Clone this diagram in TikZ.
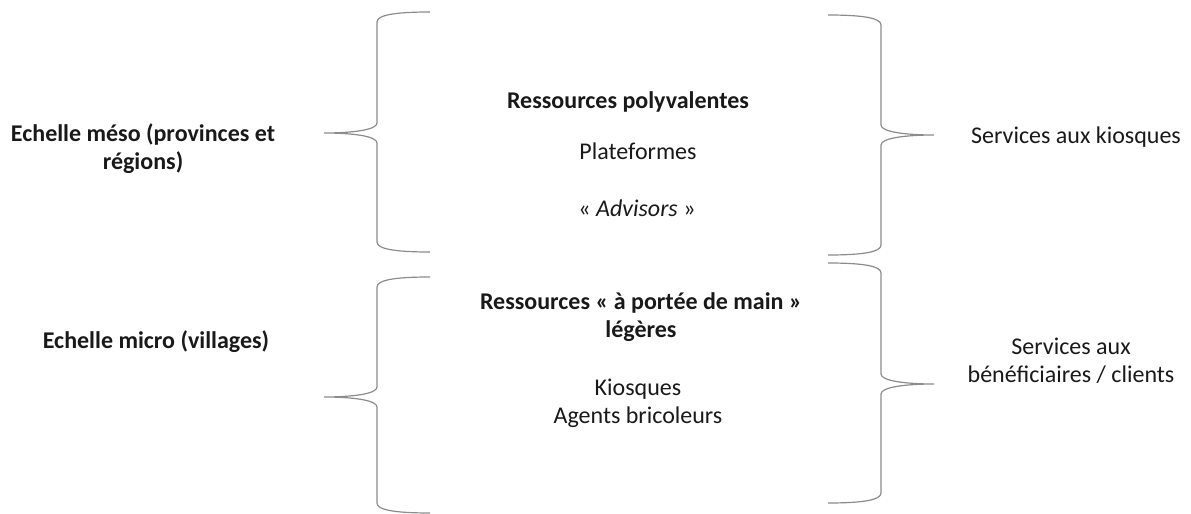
\documentclass[tikz,border=0pt]{standalone}
\usepackage{fontspec}
\setmainfont{Carlito}
\usetikzlibrary{positioning}
\definecolor{bracegray}{RGB}{140,140,140}
\definecolor{textdark}{RGB}{25,25,25}

\begin{document}
\begin{tikzpicture}[x=0.5pt,y=-0.5pt,
  label/.style={text=textdark,align=center,inner sep=0pt,font=\fontsize{12}{14}\selectfont},
  title/.style={label,font=\fontsize{12}{14}\selectfont\bfseries}]
\useasboundingbox (0,0) rectangle (1191,514);
% accolades : x du trait vertical / sens / haut / pointe / bas
\foreach \v/\d/\yt/\ym/\yb in {377/-1/12/133/252, 377/-1/277/397/513, 881/1/15/135/255, 881/1/263/384/503}{
  \draw[bracegray,line width=0.6pt] ({\v-53*\d},\yt) .. controls ({\v-18*\d},\yt) and (\v,\yt+3) .. (\v,\yt+10)
    -- (\v,\ym-10) .. controls (\v,\ym-3) and ({\v+25*\d},\ym) .. ({\v+53*\d},\ym)
    .. controls ({\v+25*\d},\ym) and (\v,\ym+3) .. (\v,\ym+10)
    -- (\v,\yb-10) .. controls (\v,\yb-3) and ({\v-18*\d},\yb) .. ({\v-53*\d},\yb);
}
\node[title] (meso) at (143,149) {Echelle méso (provinces et\\régions)};
\node[title] (micro) at (156,342) {Echelle micro (villages)};
\node[title] (polyv) at (628,102) {Ressources polyvalentes};
\node[label] (plat) at (638,151) {Plateformes};
\node[label] (advis) at (637,208) {« \textit{Advisors} »};
\node[title] (portee) at (641,317) {Ressources « à portée de main »\\légères};
\node[label] (kiosq) at (638,403) {Kiosques\\Agents bricoleurs};
\node[label] (servk) at (1076,137) {Services aux kiosques};
\node[label] (servb) at (1071,361) {Services aux\\bénéficiaires / clients};
\end{tikzpicture}
\end{document}
